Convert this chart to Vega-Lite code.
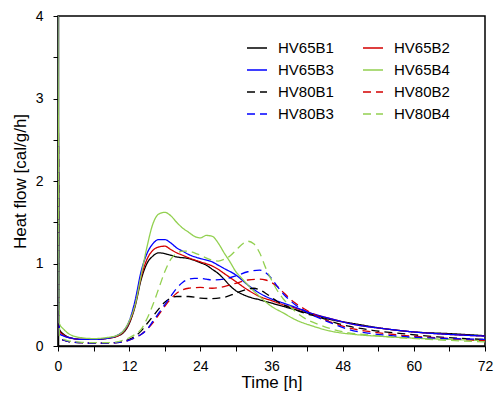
{
"$schema":"https://vega.github.io/schema/vega-lite/v6.json",
"width":427,"height":330,"autosize":"none",
"padding":{"left":58,"top":16,"right":15,"bottom":56},
"config":{"font":"Liberation Sans","view":{"stroke":"black","strokeWidth":1.5},
"axis":{"domainColor":"black","domainWidth":1.5,"tickColor":"black","tickWidth":1,"tickSize":5,"labelFontSize":14,"labelColor":"black","titleFontSize":17,"titleFontWeight":"normal","titleColor":"black","grid":false,"labelOverlap":false,"labelFlush":false}},
"datasets":{"d":[
{"s":"HV65B1","t":0,"v":4},{"s":"HV65B1","t":0.25,"v":0.2},{"s":"HV65B1","t":1,"v":0.14},{"s":"HV65B1","t":2,"v":0.1},{"s":"HV65B1","t":4,"v":0.08},{"s":"HV65B1","t":6,"v":0.08},{"s":"HV65B1","t":8,"v":0.09},{"s":"HV65B1","t":10,"v":0.12},{"s":"HV65B1","t":11,"v":0.16},{"s":"HV65B1","t":12,"v":0.27},{"s":"HV65B1","t":13,"v":0.48},{"s":"HV65B1","t":14,"v":0.8},{"s":"HV65B1","t":15,"v":1.0},{"s":"HV65B1","t":16,"v":1.09},{"s":"HV65B1","t":17,"v":1.13},{"s":"HV65B1","t":18,"v":1.12},{"s":"HV65B1","t":19,"v":1.1},{"s":"HV65B1","t":20,"v":1.08},{"s":"HV65B1","t":22,"v":1.06},{"s":"HV65B1","t":24,"v":1.01},{"s":"HV65B1","t":25,"v":0.98},{"s":"HV65B1","t":26,"v":0.93},{"s":"HV65B1","t":27,"v":0.88},{"s":"HV65B1","t":28,"v":0.81},{"s":"HV65B1","t":29,"v":0.73},{"s":"HV65B1","t":30,"v":0.67},{"s":"HV65B1","t":31,"v":0.63},{"s":"HV65B1","t":32,"v":0.6},{"s":"HV65B1","t":34,"v":0.56},{"s":"HV65B1","t":36,"v":0.52},{"s":"HV65B1","t":38,"v":0.48},{"s":"HV65B1","t":40,"v":0.44},{"s":"HV65B1","t":43,"v":0.38},{"s":"HV65B1","t":46,"v":0.32},{"s":"HV65B1","t":50,"v":0.27},{"s":"HV65B1","t":55,"v":0.21},{"s":"HV65B1","t":60,"v":0.17},{"s":"HV65B1","t":66,"v":0.15},{"s":"HV65B1","t":72,"v":0.125},
{"s":"HV65B2","t":0,"v":4},{"s":"HV65B2","t":0.25,"v":0.18},{"s":"HV65B2","t":1,"v":0.13},{"s":"HV65B2","t":2,"v":0.1},{"s":"HV65B2","t":4,"v":0.08},{"s":"HV65B2","t":6,"v":0.08},{"s":"HV65B2","t":8,"v":0.09},{"s":"HV65B2","t":10,"v":0.12},{"s":"HV65B2","t":11,"v":0.17},{"s":"HV65B2","t":12,"v":0.28},{"s":"HV65B2","t":13,"v":0.5},{"s":"HV65B2","t":14,"v":0.83},{"s":"HV65B2","t":15,"v":1.05},{"s":"HV65B2","t":16,"v":1.16},{"s":"HV65B2","t":17,"v":1.2},{"s":"HV65B2","t":18,"v":1.21},{"s":"HV65B2","t":19,"v":1.17},{"s":"HV65B2","t":20,"v":1.13},{"s":"HV65B2","t":21,"v":1.1},{"s":"HV65B2","t":22,"v":1.07},{"s":"HV65B2","t":24,"v":1.02},{"s":"HV65B2","t":26,"v":0.97},{"s":"HV65B2","t":27,"v":0.93},{"s":"HV65B2","t":28,"v":0.88},{"s":"HV65B2","t":30,"v":0.78},{"s":"HV65B2","t":32,"v":0.68},{"s":"HV65B2","t":34,"v":0.6},{"s":"HV65B2","t":36,"v":0.55},{"s":"HV65B2","t":38,"v":0.5},{"s":"HV65B2","t":40,"v":0.46},{"s":"HV65B2","t":43,"v":0.39},{"s":"HV65B2","t":46,"v":0.33},{"s":"HV65B2","t":50,"v":0.26},{"s":"HV65B2","t":55,"v":0.21},{"s":"HV65B2","t":60,"v":0.17},{"s":"HV65B2","t":66,"v":0.14},{"s":"HV65B2","t":72,"v":0.12},
{"s":"HV65B3","t":0,"v":4},{"s":"HV65B3","t":0.25,"v":0.15},{"s":"HV65B3","t":1,"v":0.12},{"s":"HV65B3","t":2,"v":0.1},{"s":"HV65B3","t":4,"v":0.08},{"s":"HV65B3","t":6,"v":0.08},{"s":"HV65B3","t":8,"v":0.09},{"s":"HV65B3","t":10,"v":0.13},{"s":"HV65B3","t":11,"v":0.18},{"s":"HV65B3","t":12,"v":0.3},{"s":"HV65B3","t":13,"v":0.55},{"s":"HV65B3","t":14,"v":0.9},{"s":"HV65B3","t":15,"v":1.12},{"s":"HV65B3","t":16,"v":1.24},{"s":"HV65B3","t":17,"v":1.29},{"s":"HV65B3","t":18,"v":1.29},{"s":"HV65B3","t":19,"v":1.25},{"s":"HV65B3","t":20,"v":1.19},{"s":"HV65B3","t":21,"v":1.15},{"s":"HV65B3","t":22,"v":1.11},{"s":"HV65B3","t":24,"v":1.06},{"s":"HV65B3","t":26,"v":1.02},{"s":"HV65B3","t":27,"v":0.98},{"s":"HV65B3","t":28,"v":0.94},{"s":"HV65B3","t":30,"v":0.86},{"s":"HV65B3","t":32,"v":0.74},{"s":"HV65B3","t":34,"v":0.64},{"s":"HV65B3","t":36,"v":0.57},{"s":"HV65B3","t":38,"v":0.52},{"s":"HV65B3","t":40,"v":0.47},{"s":"HV65B3","t":43,"v":0.39},{"s":"HV65B3","t":46,"v":0.33},{"s":"HV65B3","t":50,"v":0.26},{"s":"HV65B3","t":55,"v":0.21},{"s":"HV65B3","t":60,"v":0.17},{"s":"HV65B3","t":66,"v":0.14},{"s":"HV65B3","t":72,"v":0.12},
{"s":"HV65B4","t":0,"v":4},{"s":"HV65B4","t":0.25,"v":0.27},{"s":"HV65B4","t":1,"v":0.2},{"s":"HV65B4","t":2,"v":0.14},{"s":"HV65B4","t":4,"v":0.1},{"s":"HV65B4","t":6,"v":0.09},{"s":"HV65B4","t":8,"v":0.1},{"s":"HV65B4","t":10,"v":0.13},{"s":"HV65B4","t":11,"v":0.18},{"s":"HV65B4","t":12,"v":0.3},{"s":"HV65B4","t":13,"v":0.5},{"s":"HV65B4","t":14,"v":0.85},{"s":"HV65B4","t":15,"v":1.2},{"s":"HV65B4","t":16,"v":1.48},{"s":"HV65B4","t":17,"v":1.6},{"s":"HV65B4","t":18,"v":1.62},{"s":"HV65B4","t":19,"v":1.58},{"s":"HV65B4","t":20,"v":1.5},{"s":"HV65B4","t":21,"v":1.43},{"s":"HV65B4","t":22,"v":1.38},{"s":"HV65B4","t":23,"v":1.33},{"s":"HV65B4","t":24,"v":1.31},{"s":"HV65B4","t":25,"v":1.34},{"s":"HV65B4","t":26,"v":1.33},{"s":"HV65B4","t":27,"v":1.25},{"s":"HV65B4","t":28,"v":1.13},{"s":"HV65B4","t":29,"v":1.02},{"s":"HV65B4","t":30,"v":0.9},{"s":"HV65B4","t":31,"v":0.82},{"s":"HV65B4","t":32,"v":0.74},{"s":"HV65B4","t":34,"v":0.6},{"s":"HV65B4","t":36,"v":0.48},{"s":"HV65B4","t":38,"v":0.4},{"s":"HV65B4","t":40,"v":0.32},{"s":"HV65B4","t":43,"v":0.24},{"s":"HV65B4","t":46,"v":0.18},{"s":"HV65B4","t":50,"v":0.14},{"s":"HV65B4","t":55,"v":0.115},{"s":"HV65B4","t":60,"v":0.095},{"s":"HV65B4","t":66,"v":0.08},{"s":"HV65B4","t":72,"v":0.065},
{"s":"HV80B1","t":0,"v":4},{"s":"HV80B1","t":0.25,"v":0.1},{"s":"HV80B1","t":1,"v":0.07},{"s":"HV80B1","t":2,"v":0.05},{"s":"HV80B1","t":4,"v":0.04},{"s":"HV80B1","t":6,"v":0.035},{"s":"HV80B1","t":8,"v":0.035},{"s":"HV80B1","t":10,"v":0.045},{"s":"HV80B1","t":12,"v":0.08},{"s":"HV80B1","t":13,"v":0.12},{"s":"HV80B1","t":14,"v":0.18},{"s":"HV80B1","t":15,"v":0.27},{"s":"HV80B1","t":16,"v":0.36},{"s":"HV80B1","t":17,"v":0.45},{"s":"HV80B1","t":18,"v":0.53},{"s":"HV80B1","t":19,"v":0.58},{"s":"HV80B1","t":20,"v":0.6},{"s":"HV80B1","t":21,"v":0.6},{"s":"HV80B1","t":22,"v":0.6},{"s":"HV80B1","t":24,"v":0.58},{"s":"HV80B1","t":26,"v":0.575},{"s":"HV80B1","t":28,"v":0.59},{"s":"HV80B1","t":30,"v":0.64},{"s":"HV80B1","t":32,"v":0.69},{"s":"HV80B1","t":33,"v":0.7},{"s":"HV80B1","t":34,"v":0.68},{"s":"HV80B1","t":35,"v":0.64},{"s":"HV80B1","t":36,"v":0.59},{"s":"HV80B1","t":37,"v":0.54},{"s":"HV80B1","t":38,"v":0.5},{"s":"HV80B1","t":40,"v":0.44},{"s":"HV80B1","t":42,"v":0.39},{"s":"HV80B1","t":44,"v":0.35},{"s":"HV80B1","t":46,"v":0.3},{"s":"HV80B1","t":49,"v":0.24},{"s":"HV80B1","t":53,"v":0.19},{"s":"HV80B1","t":58,"v":0.15},{"s":"HV80B1","t":64,"v":0.11},{"s":"HV80B1","t":72,"v":0.08},
{"s":"HV80B2","t":0,"v":4},{"s":"HV80B2","t":0.25,"v":0.1},{"s":"HV80B2","t":1,"v":0.07},{"s":"HV80B2","t":2,"v":0.05},{"s":"HV80B2","t":4,"v":0.04},{"s":"HV80B2","t":6,"v":0.035},{"s":"HV80B2","t":8,"v":0.035},{"s":"HV80B2","t":10,"v":0.04},{"s":"HV80B2","t":12,"v":0.07},{"s":"HV80B2","t":13,"v":0.1},{"s":"HV80B2","t":14,"v":0.14},{"s":"HV80B2","t":15,"v":0.2},{"s":"HV80B2","t":16,"v":0.28},{"s":"HV80B2","t":17,"v":0.38},{"s":"HV80B2","t":18,"v":0.48},{"s":"HV80B2","t":19,"v":0.57},{"s":"HV80B2","t":20,"v":0.64},{"s":"HV80B2","t":21,"v":0.68},{"s":"HV80B2","t":22,"v":0.7},{"s":"HV80B2","t":24,"v":0.71},{"s":"HV80B2","t":26,"v":0.7},{"s":"HV80B2","t":28,"v":0.72},{"s":"HV80B2","t":30,"v":0.76},{"s":"HV80B2","t":32,"v":0.8},{"s":"HV80B2","t":34,"v":0.81},{"s":"HV80B2","t":35,"v":0.8},{"s":"HV80B2","t":36,"v":0.77},{"s":"HV80B2","t":37,"v":0.72},{"s":"HV80B2","t":38,"v":0.65},{"s":"HV80B2","t":39,"v":0.58},{"s":"HV80B2","t":40,"v":0.52},{"s":"HV80B2","t":42,"v":0.43},{"s":"HV80B2","t":44,"v":0.35},{"s":"HV80B2","t":46,"v":0.29},{"s":"HV80B2","t":49,"v":0.22},{"s":"HV80B2","t":53,"v":0.17},{"s":"HV80B2","t":58,"v":0.13},{"s":"HV80B2","t":64,"v":0.1},{"s":"HV80B2","t":72,"v":0.065},
{"s":"HV80B3","t":0,"v":4},{"s":"HV80B3","t":0.25,"v":0.1},{"s":"HV80B3","t":1,"v":0.07},{"s":"HV80B3","t":2,"v":0.05},{"s":"HV80B3","t":4,"v":0.04},{"s":"HV80B3","t":6,"v":0.035},{"s":"HV80B3","t":8,"v":0.035},{"s":"HV80B3","t":10,"v":0.04},{"s":"HV80B3","t":12,"v":0.07},{"s":"HV80B3","t":13,"v":0.1},{"s":"HV80B3","t":14,"v":0.14},{"s":"HV80B3","t":15,"v":0.2},{"s":"HV80B3","t":16,"v":0.3},{"s":"HV80B3","t":17,"v":0.4},{"s":"HV80B3","t":18,"v":0.5},{"s":"HV80B3","t":19,"v":0.6},{"s":"HV80B3","t":20,"v":0.7},{"s":"HV80B3","t":21,"v":0.77},{"s":"HV80B3","t":22,"v":0.81},{"s":"HV80B3","t":23,"v":0.82},{"s":"HV80B3","t":24,"v":0.82},{"s":"HV80B3","t":25,"v":0.81},{"s":"HV80B3","t":26,"v":0.8},{"s":"HV80B3","t":28,"v":0.81},{"s":"HV80B3","t":30,"v":0.85},{"s":"HV80B3","t":32,"v":0.9},{"s":"HV80B3","t":34,"v":0.92},{"s":"HV80B3","t":35,"v":0.89},{"s":"HV80B3","t":36,"v":0.82},{"s":"HV80B3","t":37,"v":0.72},{"s":"HV80B3","t":38,"v":0.63},{"s":"HV80B3","t":39,"v":0.56},{"s":"HV80B3","t":40,"v":0.5},{"s":"HV80B3","t":42,"v":0.41},{"s":"HV80B3","t":44,"v":0.34},{"s":"HV80B3","t":46,"v":0.28},{"s":"HV80B3","t":49,"v":0.2},{"s":"HV80B3","t":53,"v":0.15},{"s":"HV80B3","t":58,"v":0.115},{"s":"HV80B3","t":64,"v":0.095},{"s":"HV80B3","t":72,"v":0.08},
{"s":"HV80B4","t":0,"v":4},{"s":"HV80B4","t":0.25,"v":0.12},{"s":"HV80B4","t":1,"v":0.08},{"s":"HV80B4","t":2,"v":0.06},{"s":"HV80B4","t":4,"v":0.045},{"s":"HV80B4","t":6,"v":0.04},{"s":"HV80B4","t":8,"v":0.04},{"s":"HV80B4","t":10,"v":0.05},{"s":"HV80B4","t":11,"v":0.07},{"s":"HV80B4","t":12,"v":0.1},{"s":"HV80B4","t":13,"v":0.14},{"s":"HV80B4","t":14,"v":0.2},{"s":"HV80B4","t":15,"v":0.33},{"s":"HV80B4","t":16,"v":0.5},{"s":"HV80B4","t":17,"v":0.7},{"s":"HV80B4","t":18,"v":0.9},{"s":"HV80B4","t":19,"v":1.05},{"s":"HV80B4","t":20,"v":1.12},{"s":"HV80B4","t":21,"v":1.15},{"s":"HV80B4","t":22,"v":1.15},{"s":"HV80B4","t":23,"v":1.13},{"s":"HV80B4","t":24,"v":1.1},{"s":"HV80B4","t":26,"v":1.04},{"s":"HV80B4","t":27,"v":1.03},{"s":"HV80B4","t":28,"v":1.05},{"s":"HV80B4","t":29,"v":1.09},{"s":"HV80B4","t":30,"v":1.16},{"s":"HV80B4","t":31,"v":1.23},{"s":"HV80B4","t":32,"v":1.27},{"s":"HV80B4","t":33,"v":1.24},{"s":"HV80B4","t":34,"v":1.13},{"s":"HV80B4","t":35,"v":0.95},{"s":"HV80B4","t":36,"v":0.8},{"s":"HV80B4","t":37,"v":0.67},{"s":"HV80B4","t":38,"v":0.57},{"s":"HV80B4","t":39,"v":0.49},{"s":"HV80B4","t":40,"v":0.42},{"s":"HV80B4","t":42,"v":0.32},{"s":"HV80B4","t":44,"v":0.26},{"s":"HV80B4","t":46,"v":0.21},{"s":"HV80B4","t":49,"v":0.16},{"s":"HV80B4","t":53,"v":0.13},{"s":"HV80B4","t":58,"v":0.1},{"s":"HV80B4","t":64,"v":0.075},{"s":"HV80B4","t":72,"v":0.05}
]},
"data":{"name":"d"},
"mark":{"type":"line","interpolate":"monotone","clip":true},
"encoding":{
"x":{"field":"t","type":"quantitative","scale":{"domain":[0,72],"nice":false},
"axis":{"title":"Time [h]","values":[0,6,12,18,24,30,36,42,48,54,60,66,72],"labelExpr":"datum.value % 12 === 0 ? datum.label : ''","labelPadding":8,"titlePadding":1}},
"y":{"field":"v","type":"quantitative","scale":{"domain":[0,4],"nice":false},
"axis":{"title":"Heat flow [cal/g/h]","values":[0,0.5,1,1.5,2,2.5,3,3.5,4],"labelExpr":"datum.value % 1 === 0 ? format(datum.value,'d') : ''","labelPadding":10,"titlePadding":6}},
"color":{"field":"s","type":"nominal","scale":{"domain":["HV65B1","HV65B3","HV80B1","HV80B3","HV65B2","HV65B4","HV80B2","HV80B4"],"range":["#000000","#0000ff","#000000","#0000ff","#d40000","#92d050","#d40000","#92d050"]},
"legend":{"title":null,"orient":"none","legendX":188,"legendY":21,"columns":2,"columnPadding":26,"rowPadding":3,"labelFontSize":15,"labelColor":"black","symbolType":"stroke","symbolSize":400,"labelOffset":10}},
"strokeDash":{"field":"s","type":"nominal","scale":{"domain":["HV65B1","HV65B3","HV80B1","HV80B3","HV65B2","HV65B4","HV80B2","HV80B4"],"range":[[1,0],[1,0],[8,5],[8,5],[1,0],[1,0],[8,5],[8,5]]}},
"strokeWidth":{"field":"s","type":"ordinal","scale":{"domain":["HV65B1","HV65B3","HV80B1","HV80B3","HV65B2","HV65B4","HV80B2","HV80B4"],"range":[1.3,1.3,2.3,2.3,1.3,1.3,2.3,2.3]}}
}
}
